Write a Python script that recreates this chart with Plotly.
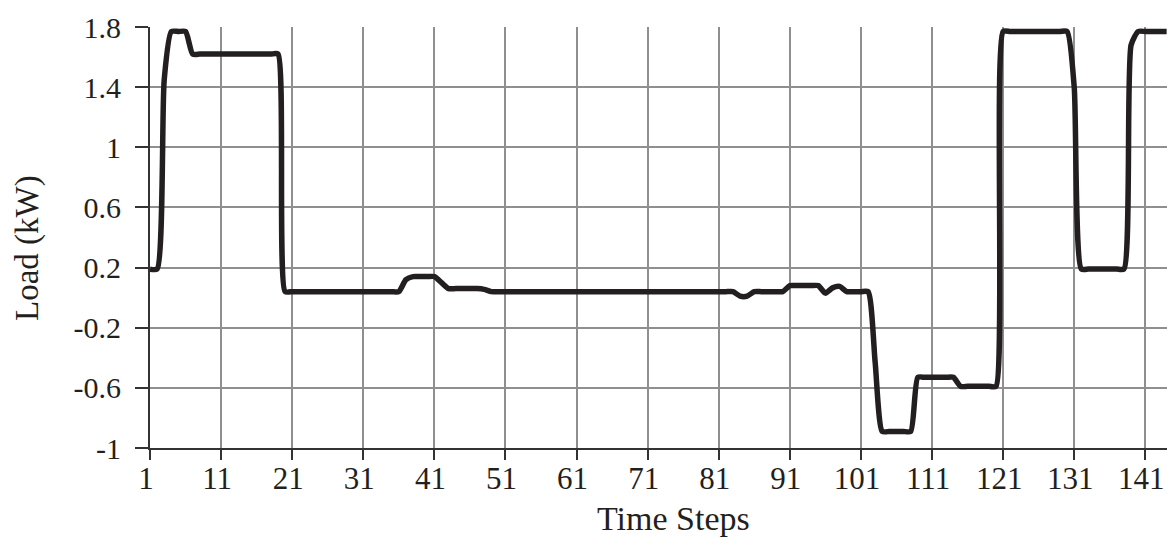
import plotly.graph_objects as go

# Time steps (categories on the x axis)
time_steps = list(range(1, 145))

# Load values (kW), one per time step
load_kw = [
    0.19, 0.19, 1.45, 1.77, 1.77, 1.77, 1.62, 1.62, 1.62, 1.62,      # 1-10
    1.62, 1.62, 1.62, 1.62, 1.62, 1.62, 1.62, 1.62, 1.62, 0.04,      # 11-20
    0.04, 0.04, 0.04, 0.04, 0.04, 0.04, 0.04, 0.04, 0.04, 0.04,      # 21-30
    0.04, 0.04, 0.04, 0.04, 0.04, 0.04, 0.12, 0.14, 0.14, 0.14,      # 31-40
    0.14, 0.10, 0.06, 0.06, 0.06, 0.06, 0.06, 0.055, 0.04, 0.04,     # 41-50
    0.04, 0.04, 0.04, 0.04, 0.04, 0.04, 0.04, 0.04, 0.04, 0.04,      # 51-60
    0.04, 0.04, 0.04, 0.04, 0.04, 0.04, 0.04, 0.04, 0.04, 0.04,      # 61-70
    0.04, 0.04, 0.04, 0.04, 0.04, 0.04, 0.04, 0.04, 0.04, 0.04,      # 71-80
    0.04, 0.04, 0.04, 0.01, 0.01, 0.04, 0.04, 0.04, 0.04, 0.04,      # 81-90
    0.08, 0.08, 0.08, 0.08, 0.08, 0.03, 0.065, 0.075, 0.04, 0.04,    # 91-100
    0.04, 0.04, -0.43, -0.89, -0.89, -0.89, -0.89, -0.89, -0.53, -0.53,  # 101-110
    -0.53, -0.53, -0.53, -0.53, -0.59, -0.59, -0.59, -0.59, -0.59, -0.59,  # 111-120
    1.77, 1.77, 1.77, 1.77, 1.77, 1.77, 1.77, 1.77, 1.77, 1.77,      # 121-130
    1.40, 0.19, 0.19, 0.19, 0.19, 0.19, 0.19, 0.19, 1.68, 1.77,      # 131-140
    1.77, 1.77, 1.77, 1.77,                                          # 141-144
]

# Tick labels
x_tick_vals = [1, 11, 21, 31, 41, 51, 61, 71, 81, 91, 101, 111, 121, 131, 141]
x_tick_text = ["1", "11", "21", "31", "41", "51", "61", "71", "81", "91",
               "101", "111", "121", "131", "141"]
y_tick_vals = [1.8, 1.4, 1.0, 0.6, 0.2, -0.2, -0.6, -1.0]
y_tick_text = ["1.8", "1.4", "1", "0.6", "0.2", "-0.2", "-0.6", "-1"]

FONT = "Liberation Serif, Times New Roman, serif"
INK = "#231f20"
GRID = "#8f8f8f"

fig = go.Figure()
fig.add_trace(go.Scatter(
    x=time_steps, y=load_kw, mode="lines",
    line=dict(color=INK, width=5.5, shape="spline", smoothing=0.6),
    showlegend=False, hoverinfo="skip",
))

fig.update_layout(
    width=1167, height=537,
    margin=dict(l=150, r=0, t=27, b=89),
    paper_bgcolor="white", plot_bgcolor="white",
    font=dict(family=FONT, color=INK, size=30),
    showlegend=False,
)

fig.update_xaxes(
    range=[1, 144.05],
    tickmode="array", tickvals=x_tick_vals, ticktext=x_tick_text,
    ticks="outside", ticklen=10, tickwidth=2, tickcolor="#333333",
    showgrid=True, gridcolor=GRID, gridwidth=1.6,
    showline=True, linecolor="#333333", linewidth=2,
    zeroline=False, tickfont=dict(size=31, family=FONT, color=INK),
    ticklabelstandoff=-8, ticklabelshift=-4, ticklabeloverflow="allow",
)
fig.update_yaxes(
    range=[-1, 1.8],
    tickmode="array", tickvals=y_tick_vals, ticktext=y_tick_text,
    ticks="outside", ticklen=13, tickwidth=2, tickcolor="#333333",
    showgrid=True, gridcolor=GRID, gridwidth=1.6,
    showline=True, linecolor="#333333", linewidth=2,
    zeroline=False, tickfont=dict(size=30, family=FONT, color=INK),
    ticklabelstandoff=8,
)

fig.add_annotation(
    text="Time Steps", xref="paper", yref="paper",
    x=(673 - 150) / 1017, y=-(518 - 448) / 421,
    xanchor="center", yanchor="middle", showarrow=False,
    font=dict(size=34, family=FONT, color=INK),
)
fig.add_annotation(
    text="Load (kW)", xref="paper", yref="paper",
    x=-(150 - 27) / 1017, y=(448 - 248) / 421, textangle=-90,
    xanchor="center", yanchor="middle", showarrow=False,
    font=dict(size=33, family=FONT, color=INK),
)

fig.write_html(
    "out.html",
    config={"displayModeBar": False},
    post_script="document.body.style.margin='0';document.body.style.overflow='hidden';",
)
